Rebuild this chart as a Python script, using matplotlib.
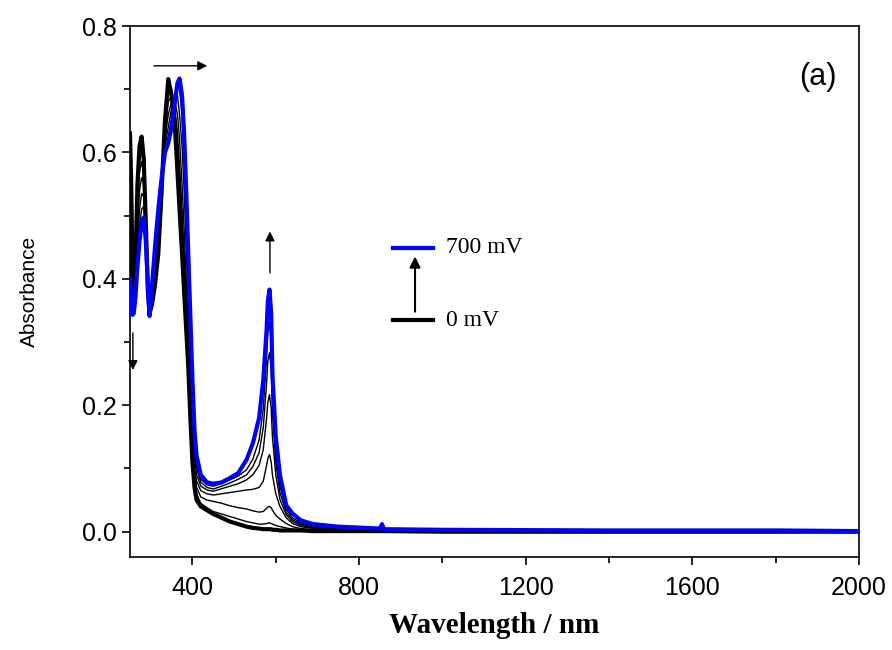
import numpy as np
import matplotlib
matplotlib.use('Agg')
import matplotlib.pyplot as plt
from matplotlib.ticker import MultipleLocator, FormatStrFormatter

# wavelength grid (nm) shared by all spectra
wavelength = [250, 253, 256, 259, 263, 268, 273, 278, 283, 288, 293, 297, 303, 310, 318, 326,
              334, 342, 350, 358, 364, 369, 375, 380, 385, 390, 395, 400, 405, 410, 420, 435,
              450, 470, 490, 510, 530, 545, 560, 570, 578, 581, 585, 589, 592, 600, 610, 625,
              640, 660, 690, 750, 850, 855, 860, 1000, 1400, 1800, 2000]

# 0 mV (thick black)
abs_0mV = [0.63, 0.55, 0.42, 0.36, 0.42, 0.55, 0.61, 0.625, 0.59, 0.49, 0.38, 0.345, 0.36, 0.39, 0.44, 0.54,
           0.65, 0.716, 0.69, 0.64, 0.57, 0.51, 0.44, 0.38, 0.32, 0.26, 0.18, 0.11, 0.07, 0.05, 0.04, 0.034,
           0.028, 0.022, 0.016, 0.012, 0.008, 0.006, 0.005, 0.004, 0.004, 0.004, 0.004, 0.004, 0.003, 0.003, 0.002, 0.002,
           0.002, 0.002, 0.001, 0.001, 0.001, 0.001, 0.001, 0.0, 0.0, 0.0, 0.0]

# intermediate potentials (thin black)
abs_step1 = [0.61, 0.53, 0.42, 0.37, 0.42, 0.54, 0.60, 0.615, 0.585, 0.49, 0.38, 0.345, 0.365, 0.40, 0.45, 0.55,
             0.65, 0.71, 0.695, 0.65, 0.59, 0.53, 0.46, 0.40, 0.34, 0.27, 0.19, 0.12, 0.08, 0.06, 0.045, 0.038,
             0.032, 0.028, 0.024, 0.020, 0.016, 0.014, 0.012, 0.012, 0.013, 0.0135, 0.014, 0.013, 0.012, 0.010, 0.008, 0.006,
             0.004, 0.003, 0.002, 0.001, 0.001, 0.001, 0.001, 0.0, 0.0, 0.0, 0.0]
abs_step2 = [0.58, 0.51, 0.42, 0.38, 0.42, 0.53, 0.59, 0.605, 0.58, 0.49, 0.38, 0.345, 0.37, 0.41, 0.46, 0.55,
             0.64, 0.70, 0.70, 0.66, 0.61, 0.55, 0.48, 0.42, 0.35, 0.28, 0.20, 0.13, 0.09, 0.07, 0.055, 0.05,
             0.048, 0.045, 0.041, 0.038, 0.036, 0.033, 0.031, 0.032, 0.037, 0.039, 0.040, 0.038, 0.034, 0.026, 0.020, 0.013,
             0.008, 0.005, 0.003, 0.002, 0.001, 0.001, 0.001, 0.0, 0.0, 0.0, 0.0]
abs_step3 = [0.54, 0.48, 0.41, 0.38, 0.41, 0.51, 0.57, 0.585, 0.565, 0.485, 0.38, 0.345, 0.375, 0.42, 0.47, 0.55,
             0.63, 0.68, 0.69, 0.67, 0.63, 0.58, 0.51, 0.44, 0.37, 0.30, 0.22, 0.15, 0.10, 0.08, 0.065, 0.06,
             0.058, 0.060, 0.062, 0.064, 0.066, 0.067, 0.070, 0.080, 0.105, 0.116, 0.122, 0.110, 0.090, 0.060, 0.040, 0.022,
             0.013, 0.008, 0.005, 0.003, 0.002, 0.002, 0.002, 0.001, 0.0, 0.0, 0.0]
abs_step4 = [0.50, 0.45, 0.40, 0.38, 0.40, 0.48, 0.54, 0.56, 0.55, 0.48, 0.38, 0.343, 0.38, 0.43, 0.48, 0.55,
             0.62, 0.66, 0.68, 0.68, 0.66, 0.62, 0.55, 0.48, 0.40, 0.32, 0.24, 0.17, 0.12, 0.09, 0.072, 0.066,
             0.064, 0.068, 0.072, 0.076, 0.082, 0.090, 0.105, 0.130, 0.180, 0.205, 0.217, 0.195, 0.150, 0.090, 0.051, 0.027,
             0.016, 0.010, 0.006, 0.004, 0.002, 0.002, 0.002, 0.001, 0.0, 0.0, 0.0]
abs_step5 = [0.46, 0.41, 0.38, 0.37, 0.39, 0.46, 0.51, 0.535, 0.53, 0.475, 0.385, 0.342, 0.385, 0.44, 0.49, 0.555,
             0.61, 0.64, 0.67, 0.69, 0.69, 0.66, 0.61, 0.54, 0.45, 0.36, 0.27, 0.19, 0.13, 0.10, 0.078, 0.07,
             0.0675, 0.072, 0.077, 0.083, 0.090, 0.103, 0.125, 0.165, 0.235, 0.270, 0.283, 0.255, 0.190, 0.110, 0.062, 0.031,
             0.019, 0.012, 0.007, 0.004, 0.003, 0.003, 0.003, 0.001, 0.001, 0.0, 0.0]
abs_step6 = [0.43, 0.38, 0.36, 0.36, 0.38, 0.44, 0.485, 0.51, 0.515, 0.47, 0.39, 0.341, 0.39, 0.445, 0.50, 0.555,
             0.60, 0.625, 0.655, 0.69, 0.705, 0.70, 0.66, 0.59, 0.50, 0.40, 0.30, 0.21, 0.145, 0.11, 0.083, 0.074,
             0.072, 0.076, 0.082, 0.088, 0.098, 0.115, 0.145, 0.195, 0.275, 0.315, 0.331, 0.300, 0.220, 0.125, 0.072, 0.036,
             0.022, 0.014, 0.009, 0.005, 0.003, 0.003, 0.003, 0.002, 0.001, 0.001, 0.0]

# 700 mV (blue)
abs_700mV = [0.40, 0.36, 0.343, 0.345, 0.37, 0.42, 0.46, 0.49, 0.497, 0.46, 0.39, 0.341, 0.39, 0.45, 0.51, 0.56,
             0.60, 0.615, 0.64, 0.68, 0.71, 0.717, 0.69, 0.63, 0.54, 0.44, 0.34, 0.24, 0.16, 0.12, 0.09, 0.078,
             0.076, 0.078, 0.085, 0.093, 0.114, 0.14, 0.18, 0.24, 0.32, 0.365, 0.383, 0.345, 0.25, 0.15, 0.09, 0.042,
             0.029, 0.018, 0.012, 0.008, 0.005, 0.012, 0.004, 0.003, 0.002, 0.002, 0.001]

thin_curves = [abs_step1, abs_step2, abs_step3, abs_step4, abs_step5, abs_step6]

fig = plt.figure(figsize=(8.92, 6.5), dpi=100)
ax = fig.add_axes([0.1457, 0.1431, 0.8173, 0.8169])

ax.plot(wavelength, abs_0mV, color='black', lw=3.0, solid_joinstyle='round', zorder=3)
for curve in thin_curves:
    ax.plot(wavelength, curve, color='black', lw=1.0, solid_joinstyle='round', zorder=2)
ax.plot(wavelength, abs_700mV, color='#0000ff', lw=3.0, solid_joinstyle='round', zorder=4)

ax.set_xlim(250, 2000)
ax.set_ylim(-0.04, 0.8)
ax.xaxis.set_major_locator(MultipleLocator(400))
ax.xaxis.set_minor_locator(MultipleLocator(200))
ax.yaxis.set_major_locator(MultipleLocator(0.2))
ax.yaxis.set_minor_locator(MultipleLocator(0.1))
ax.yaxis.set_major_formatter(FormatStrFormatter('%.1f'))
ax.set_xticks([400, 800, 1200, 1600, 2000])

ax.tick_params(which='both', direction='out', width=1.2, top=False, right=False)
ax.tick_params(which='major', length=6, labelsize=18)
ax.tick_params(which='minor', length=4)
ax.tick_params(axis='x', pad=8)
for t in ax.get_xticklabels() + ax.get_yticklabels():
    t.set_family('Liberation Sans')
for s in ax.spines.values():
    s.set_linewidth(1.2)

ax.set_xlabel('Wavelength / nm', family='Liberation Serif', fontweight='bold', fontsize=21, labelpad=8)
ax.set_ylabel('Absorbance', family='Liberation Sans', fontsize=15, labelpad=31)

# arrows showing spectral changes
arrow = dict(arrowstyle='-|>', color='black', lw=1.0, mutation_scale=14, shrinkA=0, shrinkB=0)
ax.annotate('', xy=(0.106, 0.925), xytext=(0.033, 0.925), xycoords='axes fraction', arrowprops=arrow)
ax.annotate('', xy=(0.192, 0.613), xytext=(0.192, 0.535), xycoords='axes fraction', arrowprops=arrow)
ax.annotate('', xy=(0.004, 0.352), xytext=(0.004, 0.422), xycoords='axes fraction', arrowprops=arrow)

# hand drawn legend
ax.plot([0.361, 0.4156], [0.582, 0.582], transform=ax.transAxes, color='#0000ff', lw=3.0)
ax.plot([0.361, 0.4156], [0.446, 0.446], transform=ax.transAxes, color='black', lw=3.0)
ax.annotate('', xy=(0.391, 0.566), xytext=(0.391, 0.462), xycoords='axes fraction',
            arrowprops=dict(arrowstyle='-|>', color='black', lw=1.5, mutation_scale=16, shrinkA=0, shrinkB=0))
ax.text(0.434, 0.582, '700 mV', transform=ax.transAxes, family='Liberation Serif', fontsize=17, va='center')
ax.text(0.434, 0.446, '0 mV', transform=ax.transAxes, family='Liberation Serif', fontsize=17, va='center')

ax.text(0.944, 0.904, '(a)', transform=ax.transAxes, family='Liberation Sans', fontsize=22, ha='center', va='center')

fig.savefig('out.png', dpi=100)
